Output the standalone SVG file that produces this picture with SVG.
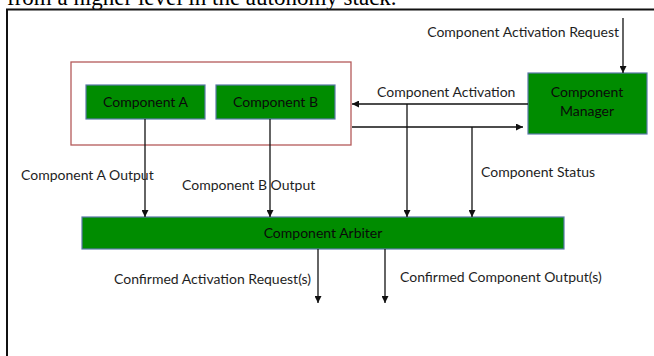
<svg xmlns="http://www.w3.org/2000/svg" width="654" height="356" viewBox="0 0 654 356">
  <style>
    .caption { font-family: "Liberation Serif", "Times New Roman", serif; font-size: 23px; fill: #000; }
    .lbl { font-family: Lato, "Liberation Sans", Arial, sans-serif; font-size: 14px; fill: #1e1e1e; }
    .box { fill: #008c00; stroke: #5a78a8; stroke-width: 1.2; }
    .boxtxt { font-family: Lato, "Liberation Sans", Arial, sans-serif; font-size: 14px; fill: #0a0a0a; text-anchor: middle; }
    .wire { stroke: #111; stroke-width: 1.3; fill: none; }
  </style>
  <defs>
    <marker id="arrow" viewBox="0 0 10 10" refX="10" refY="5" markerWidth="7" markerHeight="7" markerUnits="userSpaceOnUse" orient="auto">
      <path d="M0,0 L10,5 L0,10 Z" fill="#111"/>
    </marker>
  </defs>

  <rect width="654" height="356" fill="#fff"/>

  <!-- surrounding text line and figure frame -->
  <text class="caption" x="7" y="5">from a higher level in the autonomy stack.</text>
  <path d="M7,360 V9.5 H660" stroke="#111" stroke-width="2" fill="none"/>

  <!-- group around the components -->
  <g id="component-group">
    <rect x="71" y="62" width="280" height="83" fill="none" stroke="#b45a5a" stroke-width="1.3"/>
  </g>

  <g id="component-a">
    <rect class="box" x="86" y="85" width="119" height="34"/>
    <text class="boxtxt" x="145.5" y="107">Component A</text>
  </g>

  <g id="component-b">
    <rect class="box" x="216" y="85" width="119" height="34"/>
    <text class="boxtxt" x="275.5" y="107">Component B</text>
  </g>

  <g id="component-manager">
    <rect class="box" x="528" y="73" width="119" height="61"/>
    <text class="boxtxt" x="587" y="97">Component</text>
    <text class="boxtxt" x="587" y="116">Manager</text>
  </g>

  <g id="component-arbiter">
    <rect class="box" x="82" y="217" width="482" height="32"/>
    <text class="boxtxt" x="323" y="238">Component Arbiter</text>
  </g>

  <g id="connectors">
    <!-- request from above into the manager -->
    <line class="wire" x1="623" y1="18" x2="623" y2="73" marker-end="url(#arrow)"/>
    <!-- activation: manager to group -->
    <line class="wire" x1="528" y1="104" x2="352" y2="104" marker-end="url(#arrow)"/>
    <!-- status: group to manager -->
    <line class="wire" x1="352" y1="127" x2="523" y2="127" marker-end="url(#arrow)"/>
    <!-- taps down to the arbiter -->
    <line class="wire" x1="407" y1="104" x2="407" y2="217" marker-end="url(#arrow)"/>
    <line class="wire" x1="472" y1="127" x2="472" y2="217" marker-end="url(#arrow)"/>
    <!-- component outputs -->
    <line class="wire" x1="145" y1="119" x2="145" y2="217" marker-end="url(#arrow)"/>
    <line class="wire" x1="270" y1="119" x2="270" y2="217" marker-end="url(#arrow)"/>
    <!-- arbiter outputs -->
    <line class="wire" x1="318" y1="249" x2="318" y2="303" marker-end="url(#arrow)"/>
    <line class="wire" x1="385" y1="249" x2="385" y2="303" marker-end="url(#arrow)"/>
  </g>

  <g id="labels">
    <text class="lbl" x="619" y="37" text-anchor="end">Component Activation Request</text>
    <text class="lbl" x="377" y="97">Component Activation</text>
    <text class="lbl" x="21" y="180">Component A Output</text>
    <text class="lbl" x="182" y="190">Component B Output</text>
    <text class="lbl" x="481" y="177">Component Status</text>
    <text class="lbl" x="114" y="284">Confirmed Activation Request(s)</text>
    <text class="lbl" x="400" y="282">Confirmed Component Output(s)</text>
  </g>
</svg>
